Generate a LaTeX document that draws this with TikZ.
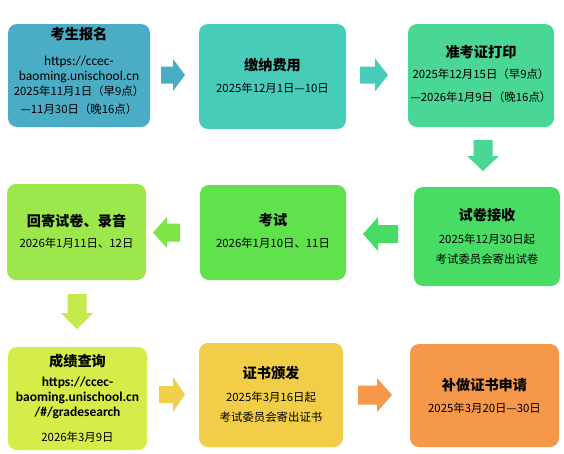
\documentclass[tikz,border=0pt]{standalone}
\usepackage{fontspec}
\setmainfont{Noto Sans CJK SC}
\newfontfamily\urlfont{Carlito}
\definecolor{cA}{HTML}{4BACC6}
\definecolor{cB}{HTML}{48CCBA}
\definecolor{cC}{HTML}{4AD694}
\definecolor{cD}{HTML}{9CE84C}
\definecolor{cE}{HTML}{60E24C}
\definecolor{cF}{HTML}{48DC64}
\definecolor{cG}{HTML}{D6EC48}
\definecolor{cH}{HTML}{F2CE48}
\definecolor{cI}{HTML}{F6984A}
\definecolor{aE}{HTML}{80E448}
\definecolor{aD}{HTML}{C4EA4C}
\definecolor{aG}{HTML}{F0D048}
\tikzset{
  stagebox/.style={rounded corners=9pt, inner sep=0pt, draw=none},
  ttl/.style={font=\fontsize{14.2}{16}\selectfont\bfseries, inner sep=0pt, anchor=center},
  txt/.style={font=\fontsize{11.4}{13}\selectfont, inner sep=0pt, anchor=center},
  url/.style={font=\urlfont\fontsize{13.5}{15}\selectfont, inner sep=0pt, anchor=center},
  burl/.style={font=\urlfont\fontsize{13.5}{15}\selectfont\bfseries, inner sep=0pt, anchor=center}
}
% color, cx, cy, angle, length, headwidth, shaftwidth, headlength
\newcommand\blkarrow[8]{%
  \begin{scope}[shift={(#2,#3)}, rotate=#4]
    \fill[#1] (-#5pt/2,-#7pt/2) -- (#5pt/2-#8pt,-#7pt/2) -- (#5pt/2-#8pt,-#6pt/2)
      -- (#5pt/2,0pt) -- (#5pt/2-#8pt,#6pt/2) -- (#5pt/2-#8pt,#7pt/2)
      -- (-#5pt/2,#7pt/2) -- cycle;
  \end{scope}}
\begin{document}
\begin{tikzpicture}[x=1pt,y=-1pt]
\useasboundingbox[fill=white] (0,0) rectangle (564,453);
% boxes
\node[stagebox, fill=cA, minimum width=142pt, minimum height=103pt] (b1) at (79,75.5) {};
\node[stagebox, fill=cB, minimum width=147pt, minimum height=105pt] (b2) at (272.5,76.5) {};
\node[stagebox, fill=cC, minimum width=146pt, minimum height=103pt] (b3) at (481,75.5) {};
\node[stagebox, fill=cD, minimum width=139pt, minimum height=96pt] (b4) at (76.5,232) {};
\node[stagebox, fill=cE, minimum width=146pt, minimum height=95pt] (b5) at (273,232.5) {};
\node[stagebox, fill=cF, minimum width=146pt, minimum height=99pt] (b6) at (487,236.5) {};
\node[stagebox, fill=cG, minimum width=139pt, minimum height=103pt] (b7) at (77.5,398.5) {};
\node[stagebox, fill=cH, minimum width=144pt, minimum height=104pt] (b8) at (271,395) {};
\node[stagebox, fill=cI, minimum width=149pt, minimum height=103pt] (b9) at (484.5,395.5) {};
% texts box 1
\node[ttl] (t1) at (79,34) {考生报名};
\node[url] (t1a) at (79,62) {https://ccec-};
\node[url] (t1b) at (79,77) {baoming.unischool.cn};
\node[txt] (t1c) at (79,91.5) {2025年11月1日（早9点）};
\node[txt] (t1d) at (79,109) {—11月30日（晚16点）};
% box 2
\node[ttl] (t2) at (272.5,65) {缴纳费用};
\node[txt] (t2a) at (272.5,88) {2025年12月1日—10日};
% box 3
\node[ttl] (t3) at (481,52) {准考证打印};
\node[txt] (t3a) at (481,74.5) {2025年12月15日（早9点）};
\node[txt] (t3b) at (481,97) {—2026年1月9日（晚16点）};
% box 4
\node[ttl] (t4) at (76.5,221) {回寄试卷、录音};
\node[txt] (t4a) at (76.5,243) {2026年1月11日、12日};
% box 5
\node[ttl] (t5) at (273,220) {考试};
\node[txt] (t5a) at (273,243) {2026年1月10日、11日};
% box 6
\node[ttl] (t6) at (487,215) {试卷接收};
\node[txt] (t6a) at (487,239) {2025年12月30日起};
\node[txt] (t6b) at (487,259) {考试委员会寄出试卷};
% box 7
\node[ttl] (t7) at (77.5,361) {成绩查询};
\node[burl] (t7a) at (77.5,383) {https://ccec-};
\node[burl] (t7b) at (77.5,398) {baoming.unischool.cn};
\node[burl] (t7c) at (77.5,413) {/\#/gradesearch};
\node[txt] (t7d) at (77.5,437) {2026年3月9日};
% box 8
\node[ttl] (t8) at (271,373) {证书颁发};
\node[txt] (t8a) at (271,397) {2025年3月16日起};
\node[txt] (t8b) at (271,417) {考试委员会寄出证书};
% box 9
\node[ttl] (t9) at (484.5,385) {补做证书申请};
\node[txt] (t9a) at (484.5,408) {2025年3月20日—30日};
% block arrows
\blkarrow{cA}{173}{75}{0}{24}{32}{17}{12}
\blkarrow{cB}{374}{75}{0}{28}{33}{17}{13}
\blkarrow{cC}{483}{155.5}{-90}{31}{32}{19}{15}
\blkarrow{cF}{380.5}{234}{180}{35}{34}{18}{15}
\blkarrow{aE}{166.5}{232.5}{180}{27}{31}{18}{14}
\blkarrow{aD}{77}{311.5}{-90}{35}{32}{19}{16}
\blkarrow{aG}{172}{394.5}{0}{26}{35}{17}{12}
\blkarrow{cI}{375}{395}{0}{34}{34}{19}{15}
\end{tikzpicture}
\end{document}
